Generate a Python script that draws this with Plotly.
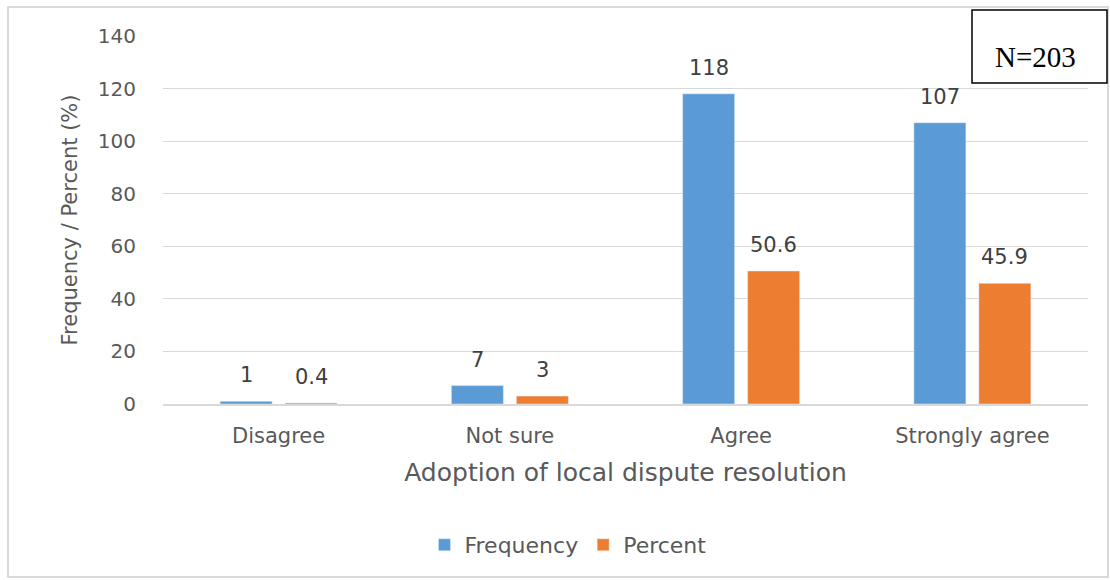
import plotly.graph_objects as go

categories = ["Disagree", "Not sure", "Agree", "Strongly agree"]
frequency = [1, 7, 118, 107]
percent = [0.4, 3, 50.6, 45.9]
y_ticks = [0, 20, 40, 60, 80, 100, 120, 140]

W, H = 1110, 580
L, R, T, B = 163, 22, 36, 176
PW, PH = W - L - R, H - T - B

def px(x):
    return (x - L) / PW

def py(y):
    return (H - B - y) / PH

FONT = "DejaVu Sans"
TEXT = "#595959"
LABEL = "#404040"
BAR_OFFSET = 32.5  # half the distance between the two bar centres, in px

fig = go.Figure()
fig.add_trace(go.Bar(name="Frequency", x=categories, y=frequency,
                     marker_color="#5B9BD5"))
fig.add_trace(go.Bar(name="Percent", x=categories, y=percent,
                     marker_color="#ED7D31"))

# value labels above each bar
annotations = []
for series, shift in ((frequency, -BAR_OFFSET), (percent, BAR_OFFSET)):
    for cat, val in zip(categories, series):
        annotations.append(dict(
            x=cat, y=val, xref="x", yref="y", text=str(val), showarrow=False,
            xanchor="center", yanchor="bottom", xshift=shift, yshift=12,
            font=dict(family=FONT, size=21, color=LABEL)))

annotations.append(dict(
    text="N=203", xref="paper", yref="paper", x=px(1035), y=py(57),
    xanchor="center", yanchor="middle", showarrow=False,
    font=dict(family="Liberation Serif", size=29, color="black")))

fig.update_layout(
    width=W, height=H,
    margin=dict(l=L, r=R, t=T, b=B),
    paper_bgcolor="white", plot_bgcolor="white",
    barmode="group", bargap=0.438, bargroupgap=0.2,
    font=dict(family=FONT, color=TEXT),
    showlegend=True,
    legend=dict(orientation="h", x=px(568), xanchor="center",
                y=py(545), yanchor="middle",
                font=dict(family=FONT, size=22, color=TEXT),
                itemwidth=30, traceorder="normal"),
    xaxis=dict(
        showline=True, linecolor="#d9d9d9", linewidth=1.5,
        tickfont=dict(family=FONT, size=21, color=TEXT),
        ticks="outside", ticklen=12, tickcolor="rgba(0,0,0,0)",
        title=dict(text="Adoption of local dispute resolution",
                   font=dict(family=FONT, size=25, color=TEXT), standoff=17),
    ),
    yaxis=dict(
        range=[0, 140], tickvals=y_ticks, showgrid=True, gridcolor="#d9d9d9",
        gridwidth=1, zeroline=False, showline=False,
        tickfont=dict(family=FONT, size=20, color=TEXT),
        ticks="outside", ticklen=22, tickcolor="rgba(0,0,0,0)",
        title=dict(text="Frequency / Percent (%)",
                   font=dict(family=FONT, size=21, color=TEXT), standoff=14),
    ),
    shapes=[
        dict(type="rect", xref="paper", yref="paper",
             x0=px(8), x1=px(1108), y0=py(577), y1=py(7),
             line=dict(color="#d9d9d9", width=2), fillcolor="rgba(0,0,0,0)",
             layer="below"),
        dict(type="rect", xref="paper", yref="paper",
             x0=px(972), x1=px(1107), y0=py(83), y1=py(10),
             line=dict(color="black", width=1.5), fillcolor="white"),
    ],
    annotations=annotations,
)

fig.write_html("out.html")
